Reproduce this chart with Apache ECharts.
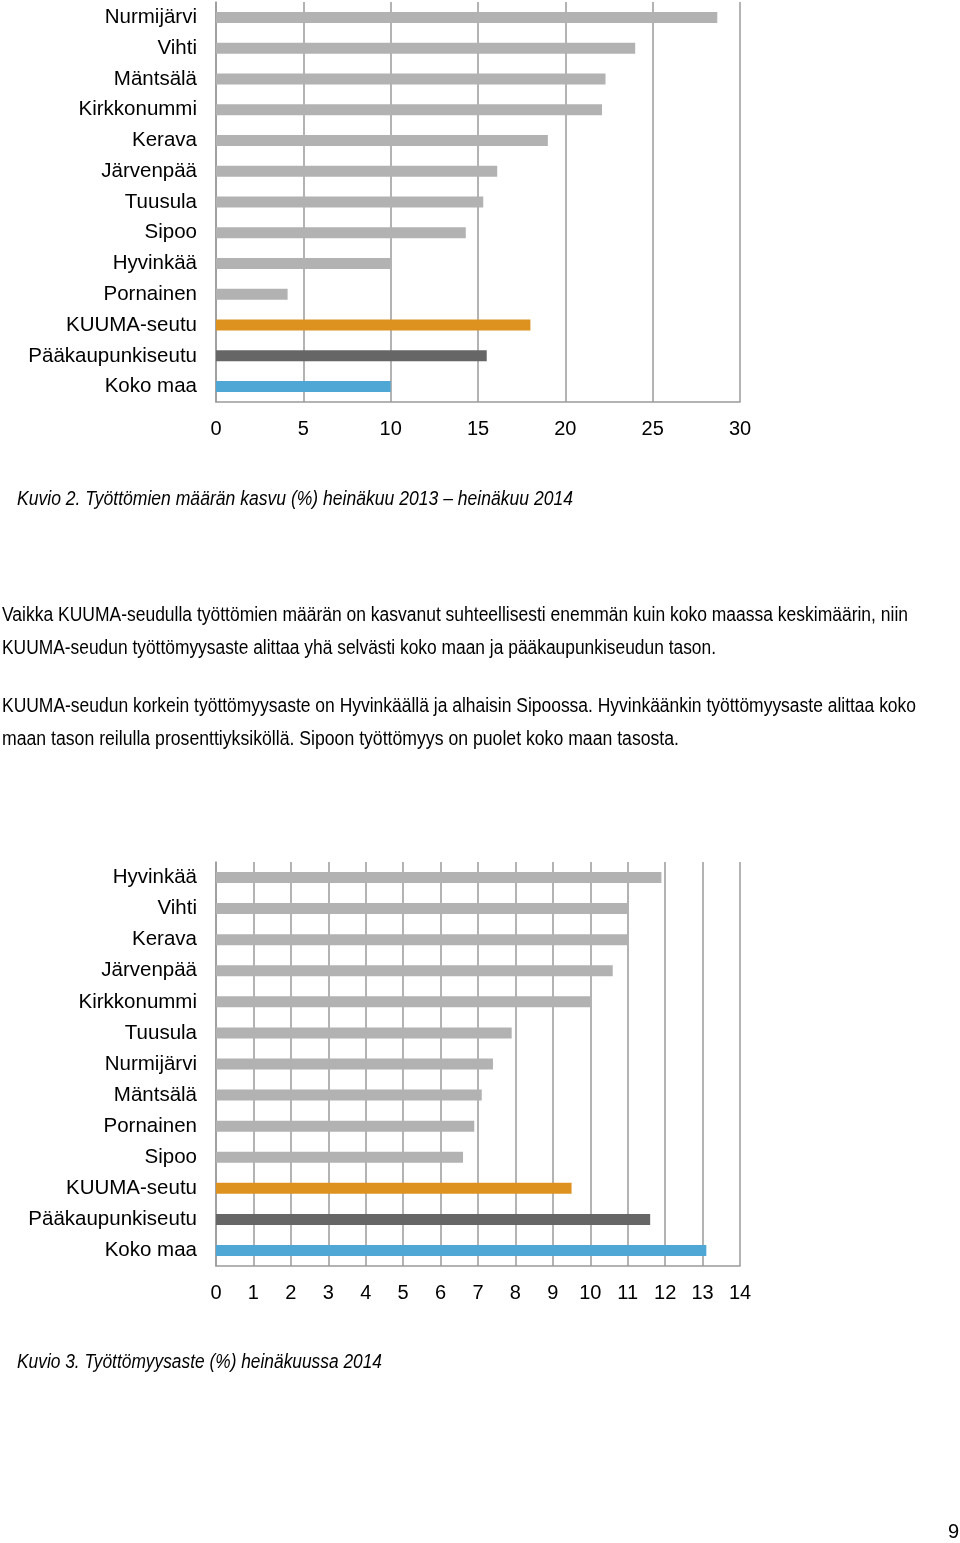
<!DOCTYPE html>
<html>
<head>
<meta charset="utf-8">
<script src="https://cdn.jsdelivr.net/npm/echarts@6/dist/echarts.min.js"></script>
<style>
html,body{margin:0;padding:0;background:#fff;}
#c{width:960px;height:1543px;}
</style>
</head>
<body>
<div id="c"></div>
<script>
// Kuvio 2: Työttömien määrän kasvu (%)
const cats1 = ['Nurmijärvi','Vihti','Mäntsälä','Kirkkonummi','Kerava','Järvenpää','Tuusula','Sipoo','Hyvinkää','Pornainen','KUUMA-seutu','Pääkaupunkiseutu','Koko maa'];
const vals1 = [28.7, 24.0, 22.3, 22.1, 19.0, 16.1, 15.3, 14.3, 10.0, 4.1, 18.0, 15.5, 10.0];
const ticks1 = [0, 5, 10, 15, 20, 25, 30];

// Kuvio 3: Työttömyysaste (%)
const cats2 = ['Hyvinkää','Vihti','Kerava','Järvenpää','Kirkkonummi','Tuusula','Nurmijärvi','Mäntsälä','Pornainen','Sipoo','KUUMA-seutu','Pääkaupunkiseutu','Koko maa'];
const vals2 = [11.9, 11.0, 11.0, 10.6, 10.0, 7.9, 7.4, 7.1, 6.9, 6.6, 9.5, 11.6, 13.1];
const ticks2 = [0,1,2,3,4,5,6,7,8,9,10,11,12,13,14];

const caption1 = 'Kuvio 2. Työttömien määrän kasvu (%) heinäkuu 2013 – heinäkuu 2014';
const caption2 = 'Kuvio 3. Työttömyysaste (%) heinäkuussa 2014';
const para = [
  'Vaikka KUUMA-seudulla työttömien määrän on kasvanut suhteellisesti enemmän kuin koko maassa keskimäärin, niin',
  'KUUMA-seudun työttömyysaste alittaa yhä selvästi koko maan ja pääkaupunkiseudun tason.',
  'KUUMA-seudun korkein työttömyysaste on Hyvinkäällä ja alhaisin Sipoossa. Hyvinkäänkin työttömyysaste alittaa koko',
  'maan tason reilulla prosenttiyksiköllä. Sipoon työttömyys on puolet koko maan tasosta.'
];
const pageNo = '9';

const GRAY = '#b2b2b2', ORANGE = '#dd9220', DARK = '#666666', BLUE = '#4ea7d4';
function colorFor(name){
  if (name === 'KUUMA-seutu') return ORANGE;
  if (name === 'Pääkaupunkiseutu') return DARK;
  if (name === 'Koko maa') return BLUE;
  return GRAY;
}
const FONT = "'Liberation Sans', Arial, sans-serif";

function xAxisFor(idx, ticks){
  return {
    type: 'value', gridIndex: idx, min: ticks[0], max: ticks[ticks.length-1],
    interval: ticks[1]-ticks[0],
    axisLine: {show: true, lineStyle: {color: '#9a9a9a', width: 1.5}},
    axisTick: {show: false},
    splitLine: {show: true, lineStyle: {color: '#9a9a9a', width: 1.5}},
    axisLabel: {color: '#000', fontSize: 20, fontFamily: FONT, margin: 17}
  };
}
function yAxisFor(idx, cats){
  return {
    type: 'category', gridIndex: idx, data: cats, inverse: true,
    axisLine: {show: true, lineStyle: {color: '#9a9a9a', width: 1.5}},
    axisTick: {show: false},
    axisLabel: {color: '#000', fontSize: 20.5, fontFamily: FONT, margin: 19}
  };
}
function seriesFor(idx, cats, vals){
  return {
    type: 'bar', xAxisIndex: idx, yAxisIndex: idx, barWidth: 11,
    silent: true, animation: false,
    data: vals.map((v,i)=>({value: v, itemStyle: {color: colorFor(cats[i])}}))
  };
}

// condensed text: measure with canvas and squeeze horizontally to the page's line width
const mctx = document.createElement('canvas').getContext('2d');
function squeezed(text, font, x, yMid, targetW){
  mctx.font = font;
  const w = mctx.measureText(text).width;
  const s = targetW ? targetW / w : 1;
  return {type:'text', x: x, y: yMid, scaleX: s, scaleY: 1,
    style:{text: text, font: font, fill:'#000', textVerticalAlign:'middle', textAlign:'left'}};
}
const bodyFont = "20px 'Liberation Sans', Arial, sans-serif";
const capFont = "italic 20px 'Liberation Sans', Arial, sans-serif";

const graphics = [
  squeezed(caption1, capFont, 17, 499, 556),
  squeezed(caption2, capFont, 17, 1362, 365),
  squeezed(pageNo, bodyFont, 948, 1532, 0)
];
const paraY = [615, 648, 706, 739];
const paraW = [906, 714, 914, 677];
para.forEach((t,i)=>graphics.push(squeezed(t, bodyFont, 2, paraY[i], paraW[i])));

const chart = echarts.init(document.getElementById('c'), null, {renderer: 'canvas'});
chart.setOption({
  animation: false,
  backgroundColor: '#fff',
  grid: [
    {left: 216, top: 2, width: 524, height: 400, containLabel: false},
    {left: 216, top: 862, width: 524, height: 404, containLabel: false}
  ],
  xAxis: [xAxisFor(0, ticks1), xAxisFor(1, ticks2)],
  yAxis: [yAxisFor(0, cats1), yAxisFor(1, cats2)],
  series: [seriesFor(0, cats1, vals1), seriesFor(1, cats2, vals2)],
  graphic: graphics
});
</script>
</body>
</html>
